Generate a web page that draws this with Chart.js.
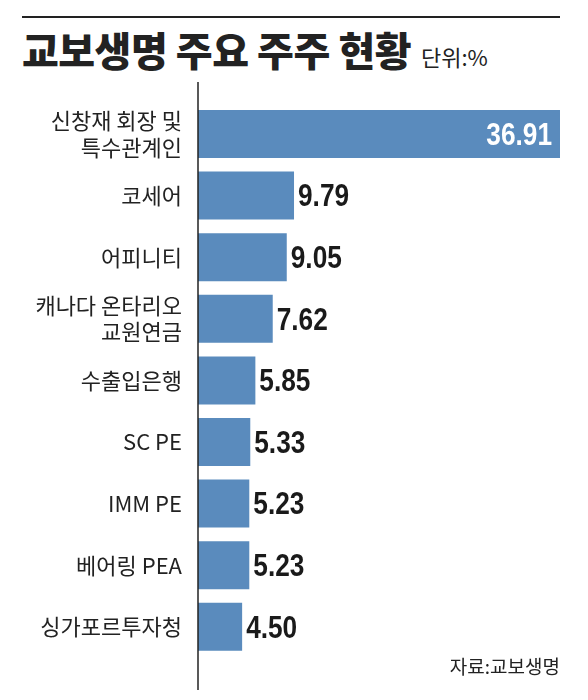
<!DOCTYPE html>
<html><head><meta charset="utf-8">
<script src="https://cdn.jsdelivr.net/npm/chart.js@4"></script>
<style>
body{margin:0;background:#fff;width:588px;height:700px;position:relative;overflow:hidden;font-family:"Noto Sans CJK KR",sans-serif}
#rule{position:absolute;left:22px;top:16px;width:538px;height:2px;background:#222}
#title{position:absolute;left:22px;top:20px;font-size:40px;font-weight:900;color:#222;letter-spacing:-0.5px}
#title span{font-size:22px;font-weight:400;margin-left:10px;letter-spacing:0}
#src{position:absolute;right:28px;top:652px;font-size:19px;color:#222}
#wrap{position:absolute;left:0;top:82px;width:588px;height:610px}
</style></head><body>
<div id="rule"></div>
<div id="title">교보생명 주요 주주 현황<span>단위:%</span></div>
<div id="wrap"><canvas id="c"></canvas></div>
<div id="src">자료:교보생명</div>
<script>
const categories=[["신창재 회장 및","특수관계인"],"코세어","어피니티",["캐나다 온타리오","교원연금"],"수출입은행","SC PE","IMM PE","베어링 PEA","싱가포르투자청"];
const values=[36.91,9.79,9.05,7.62,5.85,5.33,5.23,5.23,4.50];
const valueLabels=["36.91","9.79","9.05","7.62","5.85","5.33","5.23","5.23","4.50"];
const plug={id:'lbl',afterDatasetsDraw(ch){
 const c=ch.ctx,m=ch.getDatasetMeta(0),a=ch.chartArea,k=0.82;
 c.save();c.font='bold 32px "Liberation Sans",sans-serif';c.textBaseline='middle';
 m.data.forEach((b,i)=>{
  c.save();c.scale(k,1);
  if(i===0){c.fillStyle='#fff';c.textAlign='right';c.fillText(valueLabels[i],(b.x-8)/k,b.y+2);}
  else{c.fillStyle='#1a1a1a';c.textAlign='left';c.fillText(valueLabels[i],(b.x+4)/k,b.y+2);}
  c.restore();
 });
 c.strokeStyle='#222';c.lineWidth=1.5;c.beginPath();c.moveTo(a.left,0);c.lineTo(a.left,608);c.stroke();
 c.restore();}};
new Chart(document.getElementById('c'),{type:'bar',
 data:{labels:categories,datasets:[{data:values,backgroundColor:'#5a8bbd',barPercentage:0.78,categoryPercentage:1}]},
 options:{indexAxis:'y',responsive:true,maintainAspectRatio:false,animation:false,
  layout:{padding:{top:0,right:28,bottom:22,left:0}},
  plugins:{legend:{display:false},tooltip:{enabled:false}},
  scales:{x:{min:0,max:36.91,display:false},
   y:{afterFit(s){s.width=198;},grid:{display:false},border:{display:false},
    ticks:{color:'#222',font:{size:22,family:'"Noto Sans CJK KR",sans-serif',lineHeight:1.2},padding:8,autoSkip:false}}}},
 plugins:[plug]});
</script></body></html>
